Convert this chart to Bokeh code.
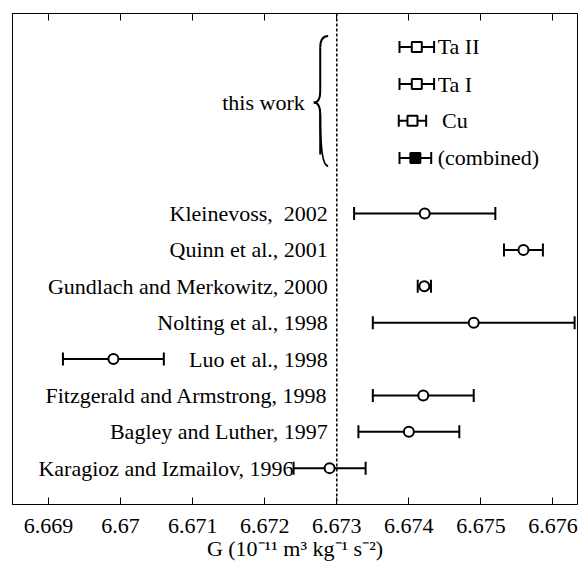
from bokeh.plotting import figure
from bokeh.models import ColumnDataSource, Whisker, TeeHead, Span, FixedTicker, LinearAxis, Range1d
from bokeh.core.properties import value
from bokeh.embed import file_html
from bokeh.resources import INLINE

# ---- data ----
ref_labels = ["Kleinevoss,\u00a0 2002", "Quinn et al., 2001", "Gundlach and Merkowitz, 2000",
              "Nolting et al., 1998", "Luo et al., 1998", "Fitzgerald and Armstrong, 1998",
              "Bagley and Luther, 1997", "Karagioz and Izmailov, 1996"]
ref_G = [6.67422, 6.67559, 6.674215, 6.6749, 6.6699, 6.6742, 6.6740, 6.6729]
ref_err = [0.00098, 0.00027, 0.000092, 0.0014, 0.0007, 0.0007, 0.0007, 0.0005]
ref_rows = [8, 7, 6, 5, 4, 3, 2, 1]

work_labels = ["Ta II", "Ta I", "\u2009Cu", "(combined)"]
work_G = [6.67411, 6.67411, 6.67405, 6.67409]
work_err = [0.00024, 0.00024, 0.00019, 0.00022]
work_rows = [12.58, 11.56, 10.55, 9.53]
work_filled = [False, False, False, True]

G_ref_line = 6.673
x_ticks = [6.669, 6.670, 6.671, 6.672, 6.673, 6.674, 6.675, 6.676]
x_tick_labels = ["6.669", "6.67", "6.671", "6.672", "6.673", "6.674", "6.675", "6.676"]
x_title = "G (10\u207b\u00b9\u00b9 m\u00b3 kg\u207b\u00b9 s\u207b\u00b2)"
group_title = "this work"

# ---- styling constants ----
FONT = "Liberation Serif"
FS = "22px"
label_gap = 0.000125          # ~9 px gap left of the dashed line
work_label_x = 6.67440
brace_x_tip, brace_x_mid, brace_x_end = 6.67268, 6.67277, 6.67288
brace_y_top, brace_y_mid, brace_y_bot = 12.88, 11.05, 9.3
brace_r = 0.32

p = figure(frame_width=565, frame_height=491, output_backend="svg", toolbar_location=None,
           x_range=Range1d(6.6685, 6.67634), y_range=Range1d(0, 13.5),
           y_axis_location=None, min_border_left=12, min_border_right=2, min_border_top=13,
           min_border_bottom=0)
p.grid.visible = False
p.outline_line_color = "black"
p.outline_line_width = 1
p.background_fill_color = "white"
p.border_fill_color = "white"

ticker = FixedTicker(ticks=x_ticks)
ax = p.xaxis[0]
ax.ticker = ticker
ax.major_label_overrides = dict(zip(x_ticks, x_tick_labels))
ax.major_tick_in = 7
ax.major_tick_out = 0
ax.minor_tick_line_color = None
ax.axis_line_color = "black"
ax.major_tick_line_color = "black"
ax.major_label_text_font = FONT
ax.major_label_text_font_size = FS
ax.major_label_text_font_style = "normal"
ax.major_label_text_color = "black"
ax.major_label_standoff = 14
ax.axis_label = x_title
ax.axis_label_text_font = FONT
ax.axis_label_text_font_size = FS
ax.axis_label_text_font_style = "normal"
ax.axis_label_text_color = "black"
ax.axis_label_standoff = 0

top = LinearAxis(ticker=ticker, major_tick_in=7, major_tick_out=0, minor_tick_line_color=None,
                 major_label_overrides={t: "" for t in x_ticks}, major_label_standoff=0,
                 axis_line_color="black", major_tick_line_color="black")
p.add_layout(top, "above")

p.add_layout(Span(location=G_ref_line, dimension="height", line_color="black",
                  line_width=1.5, line_dash="3 2"))

# reference measurements
ref_lo = [g - e for g, e in zip(ref_G, ref_err)]
ref_hi = [g + e for g, e in zip(ref_G, ref_err)]
ref_lx = [lo if (hi > G_ref_line and lo < G_ref_line - label_gap) else G_ref_line - label_gap
          for lo, hi in zip(ref_lo, ref_hi)]
ref_src = ColumnDataSource(dict(G=ref_G, y=ref_rows, label=ref_labels, lo=ref_lo, hi=ref_hi,
                                lx=ref_lx))
p.add_layout(Whisker(source=ref_src, base="y", lower="lo", upper="hi", dimension="width",
                     line_width=2, line_color="black",
                     lower_head=TeeHead(size=13, line_width=2, line_color="black"),
                     upper_head=TeeHead(size=13, line_width=2, line_color="black")))
p.scatter("G", "y", source=ref_src, marker="circle", size=10, fill_color="white",
          line_color="black", line_width=2)
p.text("lx", "y", text="label", source=ref_src, text_align="right",
       text_baseline="middle", text_font=value(FONT), text_font_size=FS, text_color="black")

# this work
work_src = ColumnDataSource(dict(
    G=work_G, y=work_rows, label=work_labels,
    lo=[g - e for g, e in zip(work_G, work_err)],
    hi=[g + e for g, e in zip(work_G, work_err)],
    fill=["black" if f else "white" for f in work_filled],
    lx=[work_label_x] * len(work_G)))
p.add_layout(Whisker(source=work_src, base="y", lower="lo", upper="hi", dimension="width",
                     line_width=2, line_color="black",
                     lower_head=TeeHead(size=12, line_width=2, line_color="black"),
                     upper_head=TeeHead(size=12, line_width=2, line_color="black")))
p.scatter("G", "y", source=work_src, marker="square", size=10, fill_color="fill",
          line_color="black", line_width=2)
p.text("lx", "y", text="label", source=work_src, text_align="left",
       text_baseline="middle", text_font=value(FONT), text_font_size=FS, text_color="black")

# brace
q = dict(
    x0=[brace_x_end, brace_x_mid, brace_x_tip, brace_x_mid],
    y0=[brace_y_top, brace_y_mid + brace_r, brace_y_mid, brace_y_mid - brace_r],
    x1=[brace_x_mid, brace_x_tip, brace_x_mid, brace_x_end],
    y1=[brace_y_top - brace_r, brace_y_mid, brace_y_mid - brace_r, brace_y_bot],
    cx=[brace_x_mid, brace_x_mid, brace_x_mid, brace_x_mid],
    cy=[brace_y_top, brace_y_mid, brace_y_mid, brace_y_bot])
p.quadratic(x0="x0", y0="y0", x1="x1", y1="y1", cx="cx", cy="cy", source=ColumnDataSource(q),
            line_color="black", line_width=2)
p.segment(x0=[brace_x_mid, brace_x_mid], y0=[brace_y_top - brace_r, brace_y_mid - brace_r],
          x1=[brace_x_mid, brace_x_mid], y1=[brace_y_mid + brace_r, brace_y_bot + brace_r],
          line_color="black", line_width=2)
p.text(x=[brace_x_tip], y=[brace_y_mid], text=[group_title], x_offset=-9, text_align="right",
       text_baseline="middle", text_font=value(FONT), text_font_size=FS, text_color="black")

open("out.html", "w").write(file_html(p, INLINE))
